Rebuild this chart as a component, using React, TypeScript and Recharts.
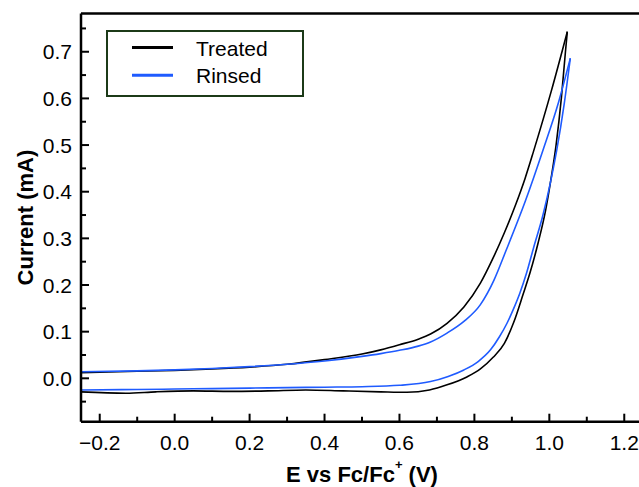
import { LineChart, Line, XAxis, YAxis, ReferenceLine, Legend, Label } from 'recharts'

const FONT = '"Liberation Sans", Arial, sans-serif'
const BLUE = '#1f5bff'

// Treated: forward (upper) branch, then reverse (lower) branch
const treatedFwdE = [-0.25, -0.1, 0.0, 0.1, 0.2, 0.3, 0.4, 0.5, 0.55, 0.6, 0.65, 0.683, 0.727, 0.772, 0.816, 0.85, 0.88, 0.91, 0.935, 0.958, 1.005, 1.048]
const treatedFwdI = [0.012, 0.015, 0.017, 0.02, 0.024, 0.03, 0.04, 0.052, 0.061, 0.072, 0.084, 0.095, 0.118, 0.153, 0.204, 0.258, 0.312, 0.372, 0.428, 0.487, 0.615, 0.743]
const treatedRevE = [1.048, 1.043, 1.032, 1.018, 1.005, 0.99, 0.97, 0.948, 0.93, 0.905, 0.88, 0.85, 0.816, 0.78, 0.727, 0.68, 0.62, 0.55, 0.45, 0.35, 0.25, 0.15, 0.05, -0.05, -0.13, -0.25]
const treatedRevI = [0.743, 0.7, 0.6, 0.5, 0.43, 0.36, 0.29, 0.225, 0.18, 0.12, 0.075, 0.045, 0.02, 0.003, -0.014, -0.025, -0.03, -0.029, -0.027, -0.025, -0.027, -0.028, -0.027, -0.029, -0.032, -0.029]

// Rinsed
const rinsedFwdE = [-0.25, -0.1, 0.0, 0.1, 0.2, 0.3, 0.4, 0.5, 0.55, 0.6, 0.65, 0.683, 0.727, 0.772, 0.816, 0.852, 0.885, 0.936, 0.983, 1.025, 1.056]
const rinsedFwdI = [0.014, 0.016, 0.018, 0.021, 0.025, 0.03, 0.037, 0.047, 0.053, 0.06, 0.069, 0.078, 0.097, 0.122, 0.158, 0.21, 0.275, 0.38, 0.489, 0.593, 0.686]
const rinsedRevE = [1.056, 1.04, 1.02, 1.003, 0.983, 0.958, 0.939, 0.921, 0.905, 0.887, 0.866, 0.843, 0.81, 0.772, 0.73, 0.683, 0.6, 0.5, 0.4, 0.3, 0.2, 0.1, 0.0, -0.1, -0.25]
const rinsedRevI = [0.686, 0.59, 0.49, 0.42, 0.35, 0.28, 0.225, 0.182, 0.15, 0.118, 0.088, 0.061, 0.036, 0.018, 0.004, -0.007, -0.015, -0.018, -0.019, -0.02, -0.021, -0.022, -0.023, -0.024, -0.025]

const xTicks = [-0.2, -0.1, 0, 0.1, 0.2, 0.3, 0.4, 0.5, 0.6, 0.7, 0.8, 0.9, 1.0, 1.1, 1.2]
const yTicks = [-0.05, 0, 0.05, 0.1, 0.15, 0.2, 0.25, 0.3, 0.35, 0.4, 0.45, 0.5, 0.55, 0.6, 0.65, 0.7, 0.75]
const X_DOMAIN = [-0.25, 1.25]
const Y_DOMAIN = [-0.093, 0.782]

const series = [
  { name: 'Treated', color: '#000' },
  { name: 'Rinsed', color: BLUE },
]

const toPts = (es: number[], is: number[]) => es.map((E, i) => ({ E, I: is[i] }))
const isMajor = (v: number, step: number) => Math.abs(v / step - Math.round(v / step)) < 1e-6
const fmt = (v: number) => (v < 0 ? '\u2212' : '') + Math.abs(v).toFixed(1)

function YTick({ x, y, payload }: any) {
  const v = payload.value
  const major = isMajor(v, 0.1)
  return (
    <g>
      <line x1={x} x2={x + (major ? 8 : 5)} y1={y} y2={y} stroke="#000" strokeWidth={2} />
      {major && (
        <text x={x - 9} y={y + 7.5} textAnchor="end" fontSize={21} fill="#000" fontFamily={FONT}>
          {fmt(v)}
        </text>
      )}
    </g>
  )
}

function XTick({ x, y, payload }: any) {
  const v = payload.value
  const major = isMajor(v, 0.2)
  return (
    <g>
      <line x1={x} x2={x} y1={y} y2={y - (major ? 8 : 5)} stroke="#000" strokeWidth={2} />
      {major && (
        <text x={x} y={y + 28.5} textAnchor="middle" fontSize={21} fill="#000" fontFamily={FONT}>
          {fmt(v)}
        </text>
      )}
    </g>
  )
}

function LegendBox() {
  return (
    <svg width={198} height={67} style={{ display: 'block' }}>
      <rect x={1} y={1} width={196} height={65} fill="#fff" stroke="#1c3a18" strokeWidth={2} />
      {series.map((s, i) => (
        <g key={s.name}>
          <line x1={26} x2={67} y1={17.5 + i * 27.7} y2={17.5 + i * 27.7} stroke={s.color} strokeWidth={3} />
          <text x={90} y={25.7 + i * 27.7} fontSize={21} fill="#000" fontFamily={FONT}>{s.name}</text>
        </g>
      ))}
    </svg>
  )
}

export default function App() {
  return (
    <div style={{ position: 'absolute', left: 0, top: 0, width: 639, height: 487, overflow: 'hidden', background: '#fff' }}>
      <LineChart width={645} height={487} margin={{ top: 13.5, right: 2, bottom: 0, left: 0 }}>
        <XAxis
          type="number" dataKey="E" domain={X_DOMAIN} allowDataOverflow ticks={xTicks} interval={0}
          tickSize={0} tickMargin={0} tickLine={false} tick={<XTick />} height={65.3}
          axisLine={{ stroke: '#000', strokeWidth: 2.5 }}
        >
          <Label
            content={({ viewBox }: any) => (
              <text x={viewBox.x + viewBox.width / 2} y={viewBox.y + 60} textAnchor="middle"
                    fontSize={22} fontWeight="bold" fill="#000" fontFamily={FONT}>
                E vs Fc/Fc<tspan dy={-13} fontSize={13}>+</tspan><tspan dy={13}> (V)</tspan>
              </text>
            )}
          />
        </XAxis>
        <YAxis
          type="number" domain={Y_DOMAIN} allowDataOverflow ticks={yTicks} interval={0}
          tickSize={0} tickMargin={0} tickLine={false} tick={<YTick />} width={81}
          axisLine={{ stroke: '#000', strokeWidth: 2.5 }}
        >
          <Label
            content={({ viewBox }: any) => {
              const cx = viewBox.x + 33
              const cy = viewBox.y + viewBox.height / 2
              return (
                <text x={cx} y={cy} transform={`rotate(-90, ${cx}, ${cy})`} textAnchor="middle"
                      fontSize={22} fontWeight="bold" fill="#000" fontFamily={FONT}>
                  Current (mA)
                </text>
              )
            }}
          />
        </YAxis>
        <ReferenceLine y={Y_DOMAIN[1]} stroke="#000" strokeWidth={2.5} ifOverflow="extendDomain" />
        <Legend layout="horizontal" verticalAlign="middle" align="center"
                content={() => <LegendBox />}
                wrapperStyle={{ left: 106, top: 30, width: 198, height: 67 }} />
        <Line data={toPts(treatedFwdE, treatedFwdI)} dataKey="I" type="monotone" stroke="#000" strokeWidth={1.6} dot={false} isAnimationActive={false} />
        <Line data={toPts(treatedRevE, treatedRevI)} dataKey="I" type="monotone" stroke="#000" strokeWidth={1.6} dot={false} isAnimationActive={false} />
        <Line data={toPts(rinsedFwdE, rinsedFwdI)} dataKey="I" type="monotone" stroke={BLUE} strokeWidth={1.6} dot={false} isAnimationActive={false} />
        <Line data={toPts(rinsedRevE, rinsedRevI)} dataKey="I" type="monotone" stroke={BLUE} strokeWidth={1.6} dot={false} isAnimationActive={false} />
      </LineChart>
    </div>
  )
}
